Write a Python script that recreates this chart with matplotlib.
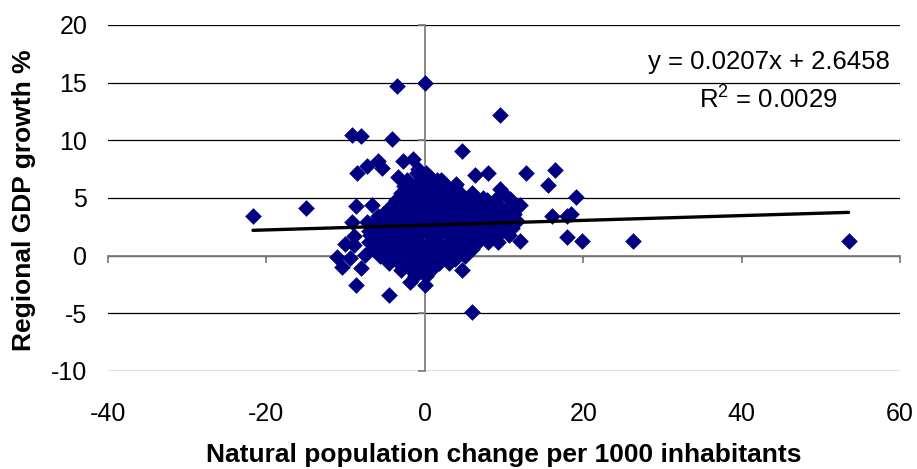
import matplotlib
matplotlib.use('Agg')
import matplotlib.pyplot as plt

plt.rcParams['font.family'] = ['Liberation Sans', 'DejaVu Sans']
plt.rcParams['axes.unicode_minus'] = False

# ---- data ----
outer_x = [0.0, -3.5, 9.5, -9.2, -8.0, -4.2, 4.7,
           -7.3, -5.9, -5.4, -2.8, -1.5, -8.5, -3.4,
           6.4, 8.0, 12.8, 16.4, 15.5, 19.1,
           9.5, 10.1, 10.7, 11.3, 7.3, 9.3, 4.0, 12.0,
           16.0, 17.9, 18.4, 17.9, 19.8, 26.3, 53.5, 12.0,
           -21.7, -15.0, -8.7, -6.7, -5.9, -9.2, -7.3, -9.0, -7.1,
           -11.1, -10.5, -9.5, -8.0, -8.7, -4.5, -1.9, 0.0,
           -10.1, -9.0, -7.6, 5.9, 4.7, 3.8,
           0.6, 1.5, 2.3, -0.9]
outer_y = [15.0, 14.7, 12.2, 10.5, 10.4, 10.1, 9.1,
           7.8, 8.2, 7.6, 8.2, 8.4, 7.2, 6.8,
           7.0, 7.2, 7.2, 7.4, 6.1, 5.1,
           5.8, 5.3, 4.9, 4.4, 5.0, 4.4, 6.2, 4.4,
           3.4, 3.4, 3.6, 1.6, 1.3, 1.3, 1.3, 1.3,
           3.4, 4.1, 4.3, 4.4, 3.4, 2.9, 2.9, 1.7, 2.1,
           -0.1, -1.0, -0.2, -1.1, -2.5, -3.4, -2.3, -2.5,
           1.0, 0.9, 0.1, -4.9, -1.2, -0.3,
           6.8, 6.6, 6.4, 7.5]

# dense core of the cloud, row by row (growth, [population change values])
core_rows = [
    (7.2, [-1.0, 0.2]),
    (6.6, [-2.2, -0.6, 0.8, 2.0]),
    (6.0, [-2.6, -1.4, -0.2, 1.1, 2.6, 3.8]),
    (5.4, [-3.0, -1.8, -0.5, 0.7, 1.9, 3.2, 4.5, 5.9]),
    (4.8, [-3.6, -2.3, -1.1, 0.3, 1.4, 2.6, 3.9, 5.2, 6.4, 7.8, 8.9]),
    (4.2, [-4.4, -3.1, -1.9, -0.6, 0.6, 1.8, 3.1, 4.4, 5.6, 6.9, 8.2, 9.5, 10.6]),
    (3.6, [-5.3, -4.0, -2.7, -1.5, -0.2, 1.0, 2.3, 3.5, 4.8, 6.1, 7.3, 8.6, 9.9, 11.2]),
    (3.0, [-6.1, -4.9, -3.6, -2.4, -1.1, 0.1, 1.4, 2.7, 3.9, 5.2, 6.5, 7.7, 9.0, 10.3, 11.6]),
    (2.4, [-6.5, -5.2, -4.0, -2.8, -1.5, -0.3, 1.0, 2.2, 3.5, 4.7, 6.0, 7.3, 8.5, 9.8, 11.0]),
    (1.8, [-6.9, -5.6, -4.4, -3.1, -1.9, -0.7, 0.6, 1.8, 3.1, 4.3, 5.6, 6.8, 8.1, 9.3, 10.6]),
    (1.2, [-7.0, -5.8, -4.5, -3.3, -2.0, -0.8, 0.5, 1.7, 3.0, 4.2, 5.5, 6.7, 8.0, 9.2]),
    (0.6, [-6.5, -5.3, -4.1, -2.8, -1.6, -0.3, 0.9, 2.2, 3.4, 4.7, 5.9]),
    (0.0, [-5.6, -4.4, -3.2, -2.0, -0.8, 0.4, 1.6, 2.8, 4.0, 5.1]),
    (-0.6, [-4.5, -3.2, -2.0, -0.7, 0.5, 1.8, 3.0]),
    (-1.2, [-3.0, -1.8, -0.5, 0.8]),
    (-1.8, [-1.2, 0.1]),
]

slope = 0.0207
intercept = 2.6458
eq_text = "y = 0.0207x + 2.6458"
r2_text = "R$^{\\mathregular{2}}$ = 0.0029"

x_ticks = [-40, -20, 0, 20, 40, 60]
y_ticks = [-10, -5, 0, 5, 10, 15, 20]
x_label = "Natural population change per 1000 inhabitants"
y_label = "Regional GDP growth %"

# ---- assemble ----
xs = list(outer_x)
ys = list(outer_y)
for gy, row in core_rows:
    for gx in row:
        xs.append(gx)
        ys.append(gy)

W, H = 917, 469
fig = plt.figure(figsize=(W / 100, H / 100), dpi=100)
left, right, top, bottom = 108, 900, 25, 371
ax = fig.add_axes([left / W, 1 - bottom / H, (right - left) / W, (bottom - top) / H])
ax.set_xlim(-40, 60)
ax.set_ylim(-10, 20)
ax.set_xticks(x_ticks)
ax.set_yticks(y_ticks)
ax.yaxis.grid(True, color='black', lw=0.9)
ax.set_axisbelow(True)

for s in ['top', 'right']:
    ax.spines[s].set_visible(False)
ax.spines['left'].set_position(('data', 0))
ax.spines['bottom'].set_position(('data', 0))
for s in ['left', 'bottom']:
    ax.spines[s].set_color('#808080')
    ax.spines[s].set_linewidth(1.3)
ax.tick_params(axis='both', direction='out', length=5, width=1.3, color='#808080',
               labelbottom=False, labelleft=False)

secx = ax.secondary_xaxis('bottom')
secx.set_xticks(x_ticks)
secx.tick_params(length=0, pad=22, labelsize=18)
secx.spines['bottom'].set_visible(False)

secy = ax.secondary_yaxis('left')
secy.set_yticks(y_ticks)
secy.tick_params(length=0, pad=15, labelsize=18)
secy.spines['left'].set_visible(False)

ax.scatter(xs, ys, marker='D', s=72, color='#000080', edgecolors='#000080',
           linewidths=0, zorder=3)

x0, x1 = min(xs), max(xs)
ax.plot([x0, x1], [slope * x0 + intercept, slope * x1 + intercept],
        color='black', lw=2.4, zorder=4, solid_capstyle='round')

ax.text(43.4, 16.8, eq_text, ha='center', va='center', fontsize=18.5)
ax.text(43.4, 13.6, r2_text, ha='center', va='center', fontsize=18.5)

fig.text(504 / W, 1 - 455 / H, x_label, ha='center', va='center',
         fontsize=19, fontweight='bold')
fig.text(24 / W, 1 - 200 / H, y_label, ha='center', va='center', rotation=90,
         fontsize=19, fontweight='bold')

fig.savefig('out.png', dpi=100)
